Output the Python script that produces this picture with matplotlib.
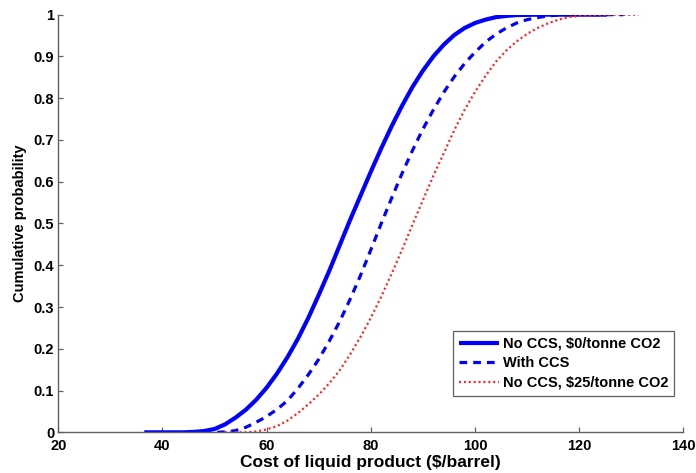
import matplotlib
matplotlib.use("Agg")
import matplotlib.pyplot as plt

# Cost distributions (cumulative probability vs. $/barrel)
cost_no_ccs_0 = [36.5, 40, 44, 46, 48, 50, 52, 54, 56, 58, 60, 62, 64, 66, 68, 70, 72,
                 74, 76, 78, 80, 82, 84, 86, 88, 90, 92, 94, 96, 98, 100, 102, 104,
                 106, 108, 112, 125.3]
prob_no_ccs_0 = [0.0, 0.0, 0.0, 0.001, 0.003, 0.008, 0.019, 0.035, 0.054, 0.078, 0.107,
                 0.141, 0.18, 0.224, 0.274, 0.329, 0.386, 0.447, 0.508, 0.566, 0.624,
                 0.68, 0.733, 0.782, 0.827, 0.866, 0.9, 0.928, 0.951, 0.968, 0.98,
                 0.988, 0.994, 0.997, 0.999, 1.0, 1.0]

cost_with_ccs = [50.5, 52, 54, 56, 58, 60, 62, 64, 66, 68, 70, 72, 74, 76, 78, 80, 82,
                 84, 86, 88, 90, 92, 94, 96, 98, 100, 102, 104, 106, 108, 110, 112,
                 114, 116, 120, 128.5]
prob_with_ccs = [0.0, 0.001, 0.004, 0.012, 0.024, 0.038, 0.055, 0.076, 0.105, 0.138,
                 0.175, 0.218, 0.265, 0.318, 0.375, 0.437, 0.5, 0.561, 0.62, 0.675,
                 0.726, 0.772, 0.814, 0.851, 0.883, 0.91, 0.934, 0.953, 0.968, 0.98,
                 0.988, 0.993, 0.997, 0.999, 1.0, 1.0]

cost_no_ccs_25 = [52, 56, 58, 60, 62, 64, 66, 68, 70, 72, 74, 76, 78, 80, 82, 84, 86,
                  88, 90, 92, 94, 96, 98, 100, 102, 104, 106, 108, 110, 112, 114, 116,
                  118, 120, 124, 131.4]
prob_no_ccs_25 = [0.0, 0.0, 0.002, 0.007, 0.015, 0.028, 0.046, 0.067, 0.09, 0.117,
                  0.148, 0.186, 0.228, 0.274, 0.325, 0.38, 0.437, 0.497, 0.556, 0.614,
                  0.668, 0.723, 0.772, 0.815, 0.853, 0.887, 0.914, 0.936, 0.954, 0.968,
                  0.979, 0.988, 0.994, 0.997, 0.999, 1.0]

labels = ["No CCS, $0/tonne CO2", "With CCS", "No CCS, $25/tonne CO2"]
x_ticks = [20, 40, 60, 80, 100, 120, 140]
y_ticks = [0, 0.1, 0.2, 0.3, 0.4, 0.5, 0.6, 0.7, 0.8, 0.9, 1]
y_tick_labels = ["0", "0.1", "0.2", "0.3", "0.4", "0.5", "0.6", "0.7", "0.8", "0.9", "1"]

plt.rcParams["font.family"] = ["Liberation Sans", "DejaVu Sans"]
plt.rcParams["font.weight"] = "bold"

fig = plt.figure(figsize=(6.96, 4.73), dpi=100)
ax = fig.add_axes([0.0838, 0.086, 0.898, 0.883])

ax.plot(cost_no_ccs_0, prob_no_ccs_0, color="#0000ff", lw=3.0, solid_capstyle="butt",
        solid_joinstyle="round", label=labels[0])
ax.plot(cost_with_ccs, prob_with_ccs, color="#0000ff", lw=2.3,
        linestyle=(0, (2.4, 1.9)), label=labels[1])
ax.plot(cost_no_ccs_25, prob_no_ccs_25, color="#ff2020", lw=1.6,
        linestyle=(0, (0.9, 1.3)), label=labels[2])

ax.set_xlim(20, 140)
ax.set_ylim(0, 1)
ax.set_xticks(x_ticks)
ax.set_yticks(y_ticks)
ax.set_yticklabels(y_tick_labels)

axis_gray = "#606060"
for side in ("top", "right"):
    ax.spines[side].set_visible(False)
for side in ("left", "bottom"):
    ax.spines[side].set_color(axis_gray)
    ax.spines[side].set_linewidth(1.0)

ax.tick_params(direction="in", length=3.6, width=0.9, color=axis_gray,
               labelsize=10.5, labelcolor="black")
ax.tick_params(axis="x", pad=5)
ax.tick_params(axis="y", pad=3)
for lbl in ax.get_xticklabels() + ax.get_yticklabels():
    lbl.set_fontweight("bold")

ax.set_xlabel("Cost of liquid product ($/barrel)", fontsize=12.5, fontweight="bold",
              labelpad=1)
ax.set_ylabel("Cumulative probability", fontsize=10.5, fontweight="bold", labelpad=5)

leg = ax.legend(loc="lower right", bbox_to_anchor=(0.9856, 0.0876), fontsize=10.5,
                fancybox=False, framealpha=1, edgecolor=axis_gray, handlelength=2.7,
                handletextpad=0.3, borderpad=0.4, labelspacing=0.38,
                borderaxespad=0)
leg.get_frame().set_linewidth(0.9)
for t in leg.get_texts():
    t.set_fontweight("bold")

fig.savefig("out.png", dpi=100, facecolor="white")
